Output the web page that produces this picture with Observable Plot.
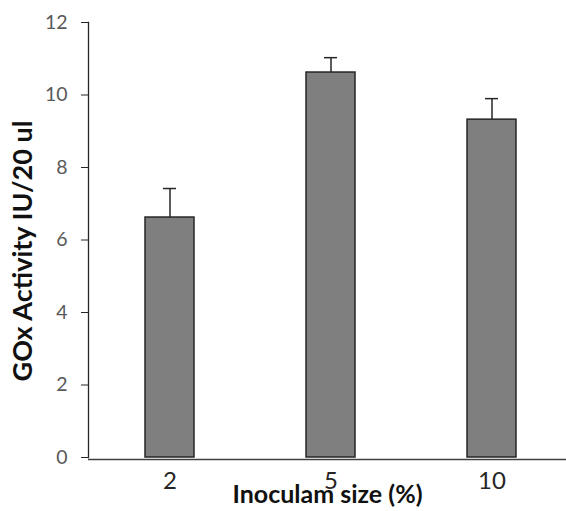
<!DOCTYPE html>
<html>
<head>
<meta charset="utf-8">
<script src="https://cdn.jsdelivr.net/npm/d3@7"></script>
<script src="https://cdn.jsdelivr.net/npm/@observablehq/plot@0.6"></script>
<style>
  html, body { margin: 0; padding: 0; background: #fff; }
  #chart svg { display: block; overflow: visible; }
</style>
</head>
<body>
<div id="chart"></div>
<script>
const categories = ["2", "5", "10"];
const values = [6.62, 10.62, 9.32];
const errors = [0.80, 0.41, 0.58];
const yTicks = [0, 2, 4, 6, 8, 10, 12];
const xTitle = "Inoculam size (%)";
const yTitle = "GOx Activity IU/20 ul";

const data = categories.map((c, i) => ({cat: c, v: values[i], e: errors[i], top: values[i] + errors[i]}));

const W = 566, H = 511;
const dark = "#262626";

const chart = Plot.plot({
  width: W,
  height: H,
  marginLeft: 88,
  marginRight: 0,
  marginTop: 22,
  marginBottom: 54,
  style: {fontFamily: "Lato, 'Open Sans', sans-serif", background: "#fff"},
  x: {domain: categories, range: [88, 572], padding: 0, align: 0.5},
  y: {domain: [0, 12]},
  marks: [
    Plot.barY(data, {x: "cat", y: "v", fill: "#7f7f7f", stroke: dark, strokeWidth: 1.5, insetLeft: 56, insetRight: 56}),
    Plot.ruleX(data, {x: "cat", y1: "v", y2: "top", stroke: dark, strokeWidth: 1.5}),
    Plot.tickY(data, {x: "cat", y: "top", stroke: dark, strokeWidth: 1.5, insetLeft: 74, insetRight: 74}),
    Plot.frame({anchor: "left", stroke: dark, strokeWidth: 1.3}),
    Plot.ruleY([0], {stroke: "#404040", strokeWidth: 1.5, dy: 2}),
    Plot.axisY({ticks: yTicks, tickSize: 7, tickPadding: 14, fontSize: 19.5, color: "#595959", stroke: dark, label: null, tickFormat: d => String(d)}),
    Plot.axisX({tickSize: 0, tickPadding: 14, fontSize: 24, color: dark, label: null}),
    Plot.text([xTitle], {frameAnchor: "bottom", textAnchor: "middle", lineAnchor: "middle", dy: 37, fontSize: 25, fontWeight: "bold", fill: "#111"}),
    Plot.text([yTitle], {frameAnchor: "left", textAnchor: "middle", lineAnchor: "middle", dx: -65, dy: 11, rotate: -90, fontSize: 27, fontWeight: "bold", fill: "#111"})
  ]
});
document.getElementById("chart").appendChild(chart);
</script>
</body>
</html>
